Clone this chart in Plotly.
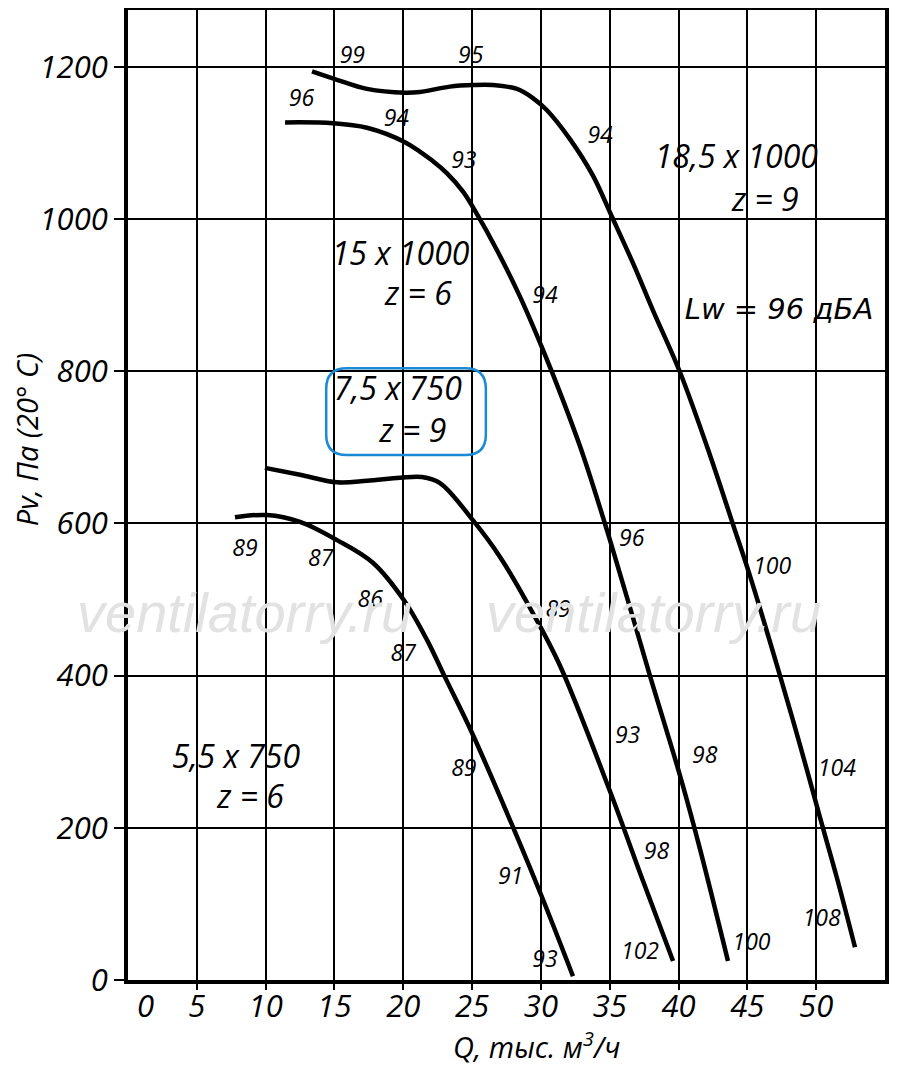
import plotly.graph_objects as go

# кривые вентиляторов (Q, тыс. м3/ч ; Pv, Па)
q_55 = [7.77, 10.10, 12.50, 15.19, 17.81, 20.05, 21.72, 23.03, 24.99, 28.04, 30.01, 32.33]
p_55 = [608, 611, 602, 578, 548, 499, 447, 398, 325, 198, 112, 5]

q_75 = [9.95, 12.50, 15.18, 17.36, 19.76, 21.36, 22.67, 25.07, 27.03, 29.42, 31.39, 35.02, 37.42, 39.60]
p_75 = [673, 664, 654, 656, 660, 661, 653, 604, 556, 482, 413, 248, 130, 25]

q_15 = [11.41, 14.89, 17.36, 20.12, 22.16, 23.18, 24.34, 25.21, 26.81, 28.48, 30.15, 31.60,
        33.06, 35.02, 37.92, 40.18, 41.56, 43.59]
p_15 = [1127, 1126, 1120, 1101, 1076, 1060, 1036, 1011, 959, 898, 828, 762,
        690, 578, 400, 264, 172, 25]

q_185 = [13.37, 15.18, 17.36, 20.12, 21.21, 23.39, 25.07, 26.52, 28.26, 29.42, 30.44, 32.11, 33.78,
         35.16, 36.69, 38.14, 40.10, 42.28, 43.95, 45.19, 47.37, 48.82, 50.27, 51.51, 52.82]
p_185 = [1194, 1183, 1171, 1166, 1167, 1174, 1176, 1176, 1171, 1159, 1143, 1105, 1057,
         1003, 942, 880, 799, 690, 599, 531, 400, 309, 214, 134, 43]

# уровни шума вдоль кривых
lw_text = ["99", "95", "96", "94", "93", "94", "94", "96", "100", "89",
           "89", "87", "86", "87", "89", "91", "93",
           "93", "98", "102", "98", "100", "104", "108"]
lw_q = [16.3, 24.9, 12.6, 19.5, 24.4, 34.3, 30.3, 36.6, 46.8, 31.25,
        8.5, 14.0, 17.6, 20.0, 24.4, 27.8, 30.3,
        36.3, 38.4, 37.2, 41.9, 45.3, 51.5, 50.4]
lw_p = [1213, 1213, 1156, 1130, 1074, 1108, 897, 578, 541, 484,
        565, 552, 498, 427, 276, 134, 24,
        319, 166, 35, 293, 47, 276, 78]

# подписи двигателей
motor_text = ["18,5 x 1000", "z = 9", "15 x 1000", "z = 6",
              "7,5 x 750", "z = 9", "5,5 x 750", "z = 6"]
motor_q = [44.2, 46.3, 19.8, 21.1, 19.6, 20.7, 7.85, 8.9]
motor_p = [1078, 1021, 950, 897, 773, 717, 289, 237]

lw_total = "Lw = 96 дБА"
lw_total_q = 47.3
lw_total_p = 878

x_ticks = [5, 10, 15, 20, 25, 30, 35, 40, 45, 50]
y_ticks = [0, 200, 400, 600, 800, 1000, 1200]

FONT = "Open Sans"

fig = go.Figure()

for q, p in [(q_55, p_55), (q_75, p_75), (q_15, p_15), (q_185, p_185)]:
    fig.add_trace(go.Scatter(
        x=q, y=p, mode="lines",
        line=dict(color="black", width=4.5, shape="spline", smoothing=1.0),
        showlegend=False, hoverinfo="skip"
    ))

fig.add_trace(go.Scatter(
    x=lw_q, y=lw_p, text=lw_text, mode="text",
    textfont=dict(family=FONT, size=23, color="black", style="italic"),
    showlegend=False, hoverinfo="skip"
))

fig.add_trace(go.Scatter(
    x=motor_q, y=motor_p, text=motor_text, mode="text",
    textfont=dict(family=FONT, size=32, color="black", style="italic"),
    showlegend=False, hoverinfo="skip"
))

# DejaVu Sans Oblique: "д" остаётся прямой формы, только наклонённой
fig.add_trace(go.Scatter(
    x=[lw_total_q], y=[lw_total_p], text=[lw_total], mode="text",
    textfont=dict(family="DejaVu Sans", size=29, color="black", style="italic"),
    showlegend=False, hoverinfo="skip"
))

# водяной знак
for xp in [0.154, 0.694]:
    fig.add_annotation(
        x=xp, y=0.379, xref="paper", yref="paper", text="ventilatorry.ru",
        showarrow=False, xanchor="center", yanchor="middle",
        font=dict(family="Liberation Sans", size=56, color="#e2e2e2", style="italic")
    )

# рамка вокруг 7,5 x 750
x0, x1, y0, y1 = 14.4, 26.0, 690, 804
rx, ry = 1.5, 27
path = (f"M {x0+rx},{y1} L {x1-rx},{y1} Q {x1},{y1} {x1},{y1-ry} "
        f"L {x1},{y0+ry} Q {x1},{y0} {x1-rx},{y0} L {x0+rx},{y0} "
        f"Q {x0},{y0} {x0},{y0+ry} L {x0},{y1-ry} Q {x0},{y1} {x0+rx},{y1} Z")
fig.add_shape(type="path", path=path, xref="x", yref="y",
              line=dict(color="#1a8ad4", width=2.5))

fig.add_annotation(x=1.24, y=-0.026, xref="x", yref="paper", text="0", showarrow=False,
                   xanchor="center", yanchor="middle",
                   font=dict(family=FONT, size=31, color="black", style="italic"))
fig.add_annotation(x=0.540, y=-0.067, xref="paper", yref="paper",
                   text="Q, тыс. м<sup>3</sup>/ч", showarrow=False,
                   xanchor="center", yanchor="middle",
                   font=dict(family=FONT, size=29, color="black", style="italic"))
fig.add_annotation(x=-0.134, y=0.557, xref="paper", yref="paper",
                   text="Pv, Па (20° C)", showarrow=False, textangle=-90,
                   xanchor="center", yanchor="middle",
                   font=dict(family=FONT, size=29, color="black", style="italic"))

# страница имеет отступ 8px, поэтому фигура чуть меньше окна
fig.update_layout(
    width=892, height=1057,
    margin=dict(l=120, r=15, t=2, b=85),
    paper_bgcolor="white", plot_bgcolor="white",
    xaxis=dict(
        range=[0, 55], tickvals=x_ticks, showgrid=True, gridcolor="black", gridwidth=2,
        ticks="outside", ticklen=6, tickwidth=2, tickcolor="black", ticklabelstandoff=-10,
        showline=True, linecolor="black", linewidth=4, mirror=True, zeroline=False,
        automargin=False,
        tickfont=dict(family=FONT, size=31, color="black", style="italic")
    ),
    yaxis=dict(
        range=[0, 1274.7], tickvals=y_ticks, showgrid=True, gridcolor="black", gridwidth=2,
        ticks="outside", ticklen=10, tickwidth=2, tickcolor="black",
        showline=True, linecolor="black", linewidth=4, mirror=True, zeroline=False,
        automargin=False,
        tickfont=dict(family=FONT, size=31, color="black", style="italic")
    ),
)

fig.write_html("out.html")
